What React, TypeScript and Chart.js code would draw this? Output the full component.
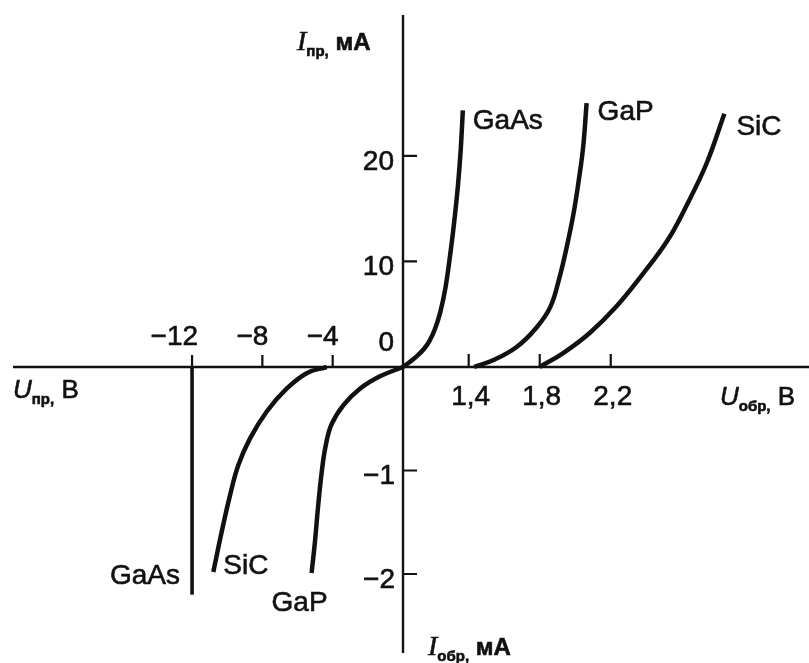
import React, { useEffect, useRef } from "react";
import { Chart, registerables } from "chart.js";

Chart.register(...registerables);

// Forward branches: voltage, V; current, mA
const gaasFwdU = [1.03, 1.07, 1.11, 1.15, 1.18, 1.21, 1.24, 1.27, 1.3, 1.32, 1.34, 1.355, 1.367];
const gaasFwdI = [0, 0.5, 1.05, 1.75, 2.5, 3.6, 5.2, 7.6, 11.2, 14.0, 17.3, 20.6, 24.3];
const gapFwdU = [1.43, 1.54, 1.67, 1.78, 1.86, 1.91, 1.95, 1.99, 2.02, 2.045, 2.064];
const gapFwdI = [0, 0.66, 1.9, 3.7, 5.7, 8.4, 11.2, 14.5, 17.7, 20.9, 25.0];
const sicFwdU = [1.8, 1.93, 2.08, 2.23, 2.38, 2.52, 2.63, 2.74, 2.84];
const sicFwdI = [0, 1.3, 3.2, 5.7, 8.8, 12.0, 15.4, 19.3, 24.0];

// Reverse branches: voltage, V; current, mA
const gaasRevU = [-12, -12];
const gaasRevI = [0, -2.2];
const sicRevU = [-10.79, -10.31, -9.84, -9.37, -8.7, -7.75, -6.62, -5.48, -4.34];
const sicRevI = [-1.98, -1.59, -1.24, -0.95, -0.69, -0.43, -0.21, -0.06, 0];
const gapRevU = [-5.2, -5.01, -4.82, -4.62, -4.42, -4.08, -3.4, -2.45, -1.31, 0];
const gapRevI = [-1.99, -1.69, -1.33, -1.01, -0.78, -0.56, -0.37, -0.21, -0.09, 0];

// Axis tick values
const xTicksRev = [-12, -8, -4];
const xTicksFwd = [1.4, 1.8, 2.2];
const yTicksFwd = [10, 20];
const yTicksRev = [-1, -2];

// The two half-axes use different scales: the forward voltage half starts at
// about 1 V and is stretched, the forward current half is compressed.
const FWD_U_START = 1.03;
const FWD_U_STRETCH = 10.1;
const FWD_I_SCALE = 0.102;

const fwdU = (v: number) => (v - FWD_U_START) * FWD_U_STRETCH;
const revU = (v: number) => v;
const iAxis = (i: number) => (i >= 0 ? i * FWD_I_SCALE : i);

const X_MIN = -22.924;
const X_MAX = 23.094;
const Y_MIN = -2.86;
const Y_MAX = 3.546;

const INK = "#111111";
const SANS = '"Liberation Sans", Arial, sans-serif';
const SERIF = '"Liberation Serif", "Times New Roman", serif';

type Part = { t: string; font: string; dy?: number };

// Filled text with a thin outline so the lettering reads as dark as printed type
function ink(ctx: CanvasRenderingContext2D, t: string, x: number, y: number) {
  ctx.fillText(t, x, y);
  ctx.strokeText(t, x, y);
}

function drawParts(ctx: CanvasRenderingContext2D, x: number, baseline: number, parts: Part[]) {
  let cx = x;
  ctx.textAlign = "left";
  ctx.textBaseline = "alphabetic";
  for (const p of parts) {
    ctx.font = p.font;
    ink(ctx, p.t, cx, baseline + (p.dy || 0));
    cx += ctx.measureText(p.t).width;
  }
}

const axesPlugin = {
  id: "crossAxes",
  beforeDraw(chart: any) {
    const { ctx, width, height } = chart;
    ctx.save();
    ctx.fillStyle = "#ffffff";
    ctx.fillRect(0, 0, width, height);
    ctx.restore();
  },
  beforeDatasetsDraw(chart: any) {
    const { ctx } = chart;
    const sx = chart.scales.x;
    const sy = chart.scales.y;
    const x0 = sx.getPixelForValue(0);
    const y0 = sy.getPixelForValue(0);
    ctx.save();
    ctx.strokeStyle = INK;
    ctx.lineWidth = 2.4;
    ctx.beginPath();
    ctx.moveTo(13, y0);
    ctx.lineTo(chart.width, y0);
    ctx.moveTo(x0, 15);
    ctx.lineTo(x0, 653);
    ctx.stroke();

    ctx.lineWidth = 2.2;
    ctx.beginPath();
    for (const v of xTicksRev) {
      const px = sx.getPixelForValue(revU(v));
      ctx.moveTo(px, y0);
      ctx.lineTo(px, y0 - 12);
    }
    for (const v of xTicksFwd) {
      const px = sx.getPixelForValue(fwdU(v));
      ctx.moveTo(px, y0);
      ctx.lineTo(px, y0 - 13);
    }
    for (const v of [...yTicksFwd, ...yTicksRev]) {
      const py = sy.getPixelForValue(iAxis(v));
      ctx.moveTo(x0, py);
      ctx.lineTo(x0 + 14, py);
    }
    ctx.stroke();
    ctx.restore();
  },
  afterDatasetsDraw(chart: any) {
    const { ctx } = chart;
    const sx = chart.scales.x;
    const sy = chart.scales.y;
    const x0 = sx.getPixelForValue(0);
    const y0 = sy.getPixelForValue(0);
    ctx.save();
    ctx.fillStyle = INK;
    ctx.strokeStyle = INK;
    ctx.lineWidth = 0.6;
    ctx.font = `28px ${SANS}`;

    // reverse voltage tick labels, above the axis
    ctx.textAlign = "right";
    ctx.textBaseline = "alphabetic";
    for (const v of xTicksRev) {
      const px = sx.getPixelForValue(revU(v));
      ink(ctx, "\u2212" + Math.abs(v), px + 6, y0 - 22);
    }
    // forward voltage tick labels, below the axis
    ctx.textAlign = "center";
    for (const v of xTicksFwd) {
      const px = sx.getPixelForValue(fwdU(v));
      ink(ctx, v.toFixed(1).replace(".", ","), px + 2, y0 + 38);
    }
    // current tick labels, left of the axis
    ctx.textAlign = "right";
    ctx.textBaseline = "middle";
    for (const v of yTicksFwd) {
      const py = sy.getPixelForValue(iAxis(v));
      ink(ctx, String(v), x0 - 9, py + 6);
    }
    for (const v of yTicksRev) {
      const py = sy.getPixelForValue(iAxis(v));
      ink(ctx, "\u2212" + Math.abs(v), x0 - 8, py + 6);
    }
    ink(ctx, "0", x0 - 9, y0 - 24);

    // curve names at the ends of the branches
    const end = (us: number[], is: number[], f: (v: number) => number) => {
      const k = us.length - 1;
      return { x: sx.getPixelForValue(f(us[k])), y: sy.getPixelForValue(iAxis(is[k])) };
    };
    ctx.textBaseline = "middle";
    ctx.textAlign = "left";
    let p = end(gaasFwdU, gaasFwdI, fwdU);
    ink(ctx, "GaAs", p.x + 10, p.y + 11);
    p = end(gapFwdU, gapFwdI, fwdU);
    ink(ctx, "GaP", p.x + 11, p.y + 9);
    p = end(sicFwdU, sicFwdI, fwdU);
    ink(ctx, "SiC", p.x + 12, p.y + 14);
    p = { x: sx.getPixelForValue(revU(gaasRevU[1])), y: sy.getPixelForValue(iAxis(gaasRevI[1])) };
    ctx.textAlign = "right";
    ink(ctx, "GaAs", p.x - 12, p.y - 18);
    p = { x: sx.getPixelForValue(revU(sicRevU[0])), y: sy.getPixelForValue(iAxis(sicRevI[0])) };
    ctx.textAlign = "left";
    ink(ctx, "SiC", p.x + 10, p.y - 6);
    p = { x: sx.getPixelForValue(revU(gapRevU[0])), y: sy.getPixelForValue(iAxis(gapRevI[0])) };
    ctx.textAlign = "center";
    ink(ctx, "GaP", p.x - 12, p.y + 30);

    // axis titles
    drawParts(ctx, 297, 50, [
      { t: "I", font: `italic 28px ${SERIF}` },
      { t: "пр,", font: `bold 15px ${SANS}`, dy: 6 },
      { t: " мА", font: `bold 24px ${SANS}` },
    ]);
    drawParts(ctx, 428, 655, [
      { t: "I", font: `italic 28px ${SERIF}` },
      { t: "обр,", font: `bold 15px ${SANS}`, dy: 6 },
      { t: " мА", font: `bold 24px ${SANS}` },
    ]);
    drawParts(ctx, 13, 398, [
      { t: "U", font: `italic 26px ${SANS}` },
      { t: "пр,", font: `bold 15px ${SANS}`, dy: 6 },
      { t: " В", font: `26px ${SANS}` },
    ]);
    drawParts(ctx, 720, 405, [
      { t: "U", font: `italic 26px ${SANS}` },
      { t: "обр,", font: `bold 15px ${SANS}`, dy: 6 },
      { t: " В", font: `26px ${SANS}` },
    ]);
    ctx.restore();
  },
};

function series(us: number[], is: number[], f: (v: number) => number) {
  return us.map((u, k) => ({ x: f(u), y: iAxis(is[k]) }));
}

function branch(label: string, data: { x: number; y: number }[], width = 4.5) {
  return {
    label,
    data,
    showLine: true,
    borderColor: INK,
    backgroundColor: INK,
    borderWidth: width,
    pointRadius: 0,
    fill: false,
    tension: 0.4,
    borderCapStyle: "butt" as const,
    borderJoinStyle: "round" as const,
  };
}

export default function App() {
  const ref = useRef<HTMLCanvasElement>(null);

  useEffect(() => {
    const canvas = ref.current;
    if (!canvas) return;
    const chart = new Chart(canvas, {
      type: "scatter",
      data: {
        datasets: [
          branch("GaAs", series(gaasFwdU, gaasFwdI, fwdU)),
          branch("GaP", series(gapFwdU, gapFwdI, fwdU)),
          branch("SiC", series(sicFwdU, sicFwdI, fwdU)),
          branch("GaAs обр.", series(gaasRevU, gaasRevI, revU), 3.6),
          branch("SiC обр.", series(sicRevU, sicRevI, revU)),
          branch("GaP обр.", series(gapRevU, gapRevI, revU)),
        ],
      },
      options: {
        animation: false,
        responsive: false,
        devicePixelRatio: 1,
        events: [],
        layout: { padding: 0 },
        plugins: { legend: { display: false }, tooltip: { enabled: false } },
        scales: {
          x: { type: "linear", display: false, min: X_MIN, max: X_MAX },
          y: { type: "linear", display: false, min: Y_MIN, max: Y_MAX },
        },
      },
      plugins: [axesPlugin],
    } as any);
    return () => chart.destroy();
  }, []);

  return (
    <div style={{ position: "fixed", left: 0, top: 0, width: 809, height: 663, background: "#fff" }}>
      <canvas ref={ref} width={809} height={663} style={{ display: "block" }} />
    </div>
  );
}
